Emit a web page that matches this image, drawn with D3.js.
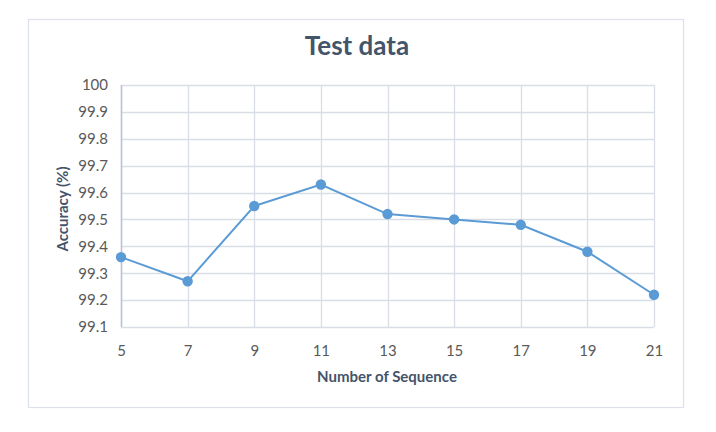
<!DOCTYPE html>
<html><head><meta charset="utf-8">
<script src="https://cdn.jsdelivr.net/npm/d3@7"></script>
<style>body{margin:0;background:#fff;} svg{display:block;}</style>
</head><body>
<script>
const categories = [5, 7, 9, 11, 13, 15, 17, 19, 21];
const accuracy = [99.36, 99.27, 99.55, 99.63, 99.52, 99.50, 99.48, 99.38, 99.22];
const yTicks = [99.1, 99.2, 99.3, 99.4, 99.5, 99.6, 99.7, 99.8, 99.9, 100];
const title = "Test data";
const xTitle = "Number of Sequence";
const yTitle = "Accuracy (%)";

const W = 716, H = 432;
const svg = d3.select("body").append("svg").attr("width", W).attr("height", H);
const font = "Lato, 'Open Sans', sans-serif";

svg.append("rect").attr("x", 28.5).attr("y", 19.5).attr("width", 655).attr("height", 388)
  .attr("fill", "#fff").attr("stroke", "#dde2ea").attr("stroke-width", 1.2);

const x = d3.scalePoint().domain(categories).range([121, 654]);
const y = d3.scaleLinear().domain([99.1, 100]).range([327, 85]);

const g = svg.append("g");
g.selectAll(".hg").data(yTicks).enter().append("line")
  .attr("x1", 121).attr("x2", 654)
  .attr("y1", d => Math.round(y(d)) + 0.5).attr("y2", d => Math.round(y(d)) + 0.5)
  .attr("stroke", "#d9dde6").attr("stroke-width", 1.3);
g.selectAll(".vg").data(categories).enter().append("line")
  .attr("x1", d => Math.round(x(d)) + 0.5).attr("x2", d => Math.round(x(d)) + 0.5)
  .attr("y1", y(100)).attr("y2", y(99.1))
  .attr("stroke", "#d9dde6").attr("stroke-width", 1.3);
g.append("line").attr("x1", 121.5).attr("x2", 121.5).attr("y1", y(100)).attr("y2", y(99.1))
  .attr("stroke", "#b4c3d9").attr("stroke-width", 1.5);

const yAxis = d3.axisLeft(y).tickValues(yTicks).tickSize(0).tickPadding(13)
  .tickFormat(d => d3.format("")(+d.toFixed(1)));
const ya = svg.append("g").attr("transform", "translate(121,0)").call(yAxis);
ya.select(".domain").remove();
ya.selectAll("text").attr("font-family", font).attr("font-size", 15).attr("fill", "#595959");

const xAxis = d3.axisBottom(x).tickSize(0).tickPadding(18);
const xa = svg.append("g").attr("transform", "translate(0,327)").call(xAxis);
xa.select(".domain").remove();
xa.selectAll("text").attr("font-family", font).attr("font-size", 15).attr("fill", "#595959");

const line = d3.line().x((d, i) => x(categories[i])).y(d => y(d));
svg.append("path").datum(accuracy).attr("d", line).attr("fill", "none")
  .attr("stroke", "#5b9bd5").attr("stroke-width", 2);
svg.selectAll(".pt").data(accuracy).enter().append("circle")
  .attr("cx", (d, i) => x(categories[i])).attr("cy", d => y(d)).attr("r", 5.2)
  .attr("fill", "#5b9bd5");

svg.append("text").attr("x", 357).attr("y", 55).attr("text-anchor", "middle")
  .attr("font-family", font).attr("font-weight", "bold").attr("font-size", 26)
  .attr("fill", "#44546a").text(title);
svg.append("text").attr("x", 387).attr("y", 382).attr("text-anchor", "middle")
  .attr("font-family", font).attr("font-weight", "bold").attr("font-size", 15)
  .attr("fill", "#44546a").text(xTitle);
svg.append("text").attr("transform", "translate(68,209) rotate(-90)").attr("text-anchor", "middle")
  .attr("font-family", font).attr("font-weight", "bold").attr("font-size", 15)
  .attr("fill", "#44546a").text(yTitle);
</script>
</body></html>
